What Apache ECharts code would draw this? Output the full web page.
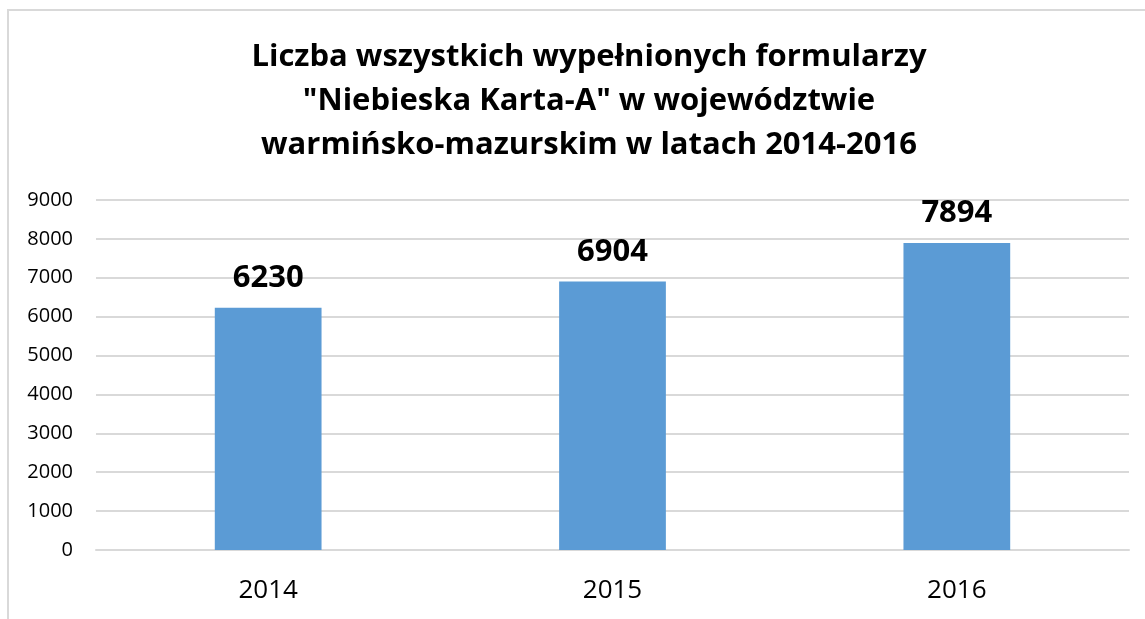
<!DOCTYPE html>
<html><head><meta charset="utf-8">
<script src="https://cdn.jsdelivr.net/npm/echarts@6/dist/echarts.min.js"></script>
<style>html,body{margin:0;padding:0;background:#fff}#c{width:1145px;height:619px}</style>
</head><body><div id="c"></div>
<script>
const categories = ['2014', '2015', '2016'];
const values = [6230, 6904, 7894];
const titleText = 'Liczba wszystkich wypełnionych formularzy\n"Niebieska Karta-A" w województwie\nwarmińsko-mazurskim w latach 2014-2016';
const FONT = '"Open Sans", sans-serif';
const chart = echarts.init(document.getElementById('c'));
chart.setOption({
  animation: false,
  backgroundColor: '#fff',
  graphic: [{type: 'rect', shape: {x: 8, y: 10, width: 1300, height: 800}, style: {fill: 'none', stroke: '#d9d9d9', lineWidth: 2}, z: -1}],
  title: {
    text: titleText, left: 584, top: 30, textAlign: 'center',
    textStyle: {fontFamily: FONT, fontWeight: 'bold', fontSize: 31, lineHeight: 44, color: '#000'}
  },
  grid: {left: 96, right: 16, top: 200, bottom: 69},
  xAxis: {
    type: 'category', data: categories,
    axisLine: {lineStyle: {color: '#d9d9d9', width: 2}}, axisTick: {show: false},
    axisLabel: {fontFamily: FONT, fontSize: 26, color: '#000', margin: 28}
  },
  yAxis: {
    type: 'value', min: 0, max: 9000, interval: 1000,
    axisLine: {show: false}, axisTick: {show: false},
    splitLine: {lineStyle: {color: '#d9d9d9', width: 2}},
    axisLabel: {fontFamily: FONT, fontSize: 20, color: '#000', margin: 23, formatter: v => String(v)}
  },
  series: [{
    type: 'bar', data: values, barWidth: '31%',
    itemStyle: {color: '#5b9bd5'},
    label: {show: true, position: 'top', distance: 14, fontFamily: FONT, fontWeight: 'bold', fontSize: 31, color: '#000'}
  }]
});
</script></body></html>
